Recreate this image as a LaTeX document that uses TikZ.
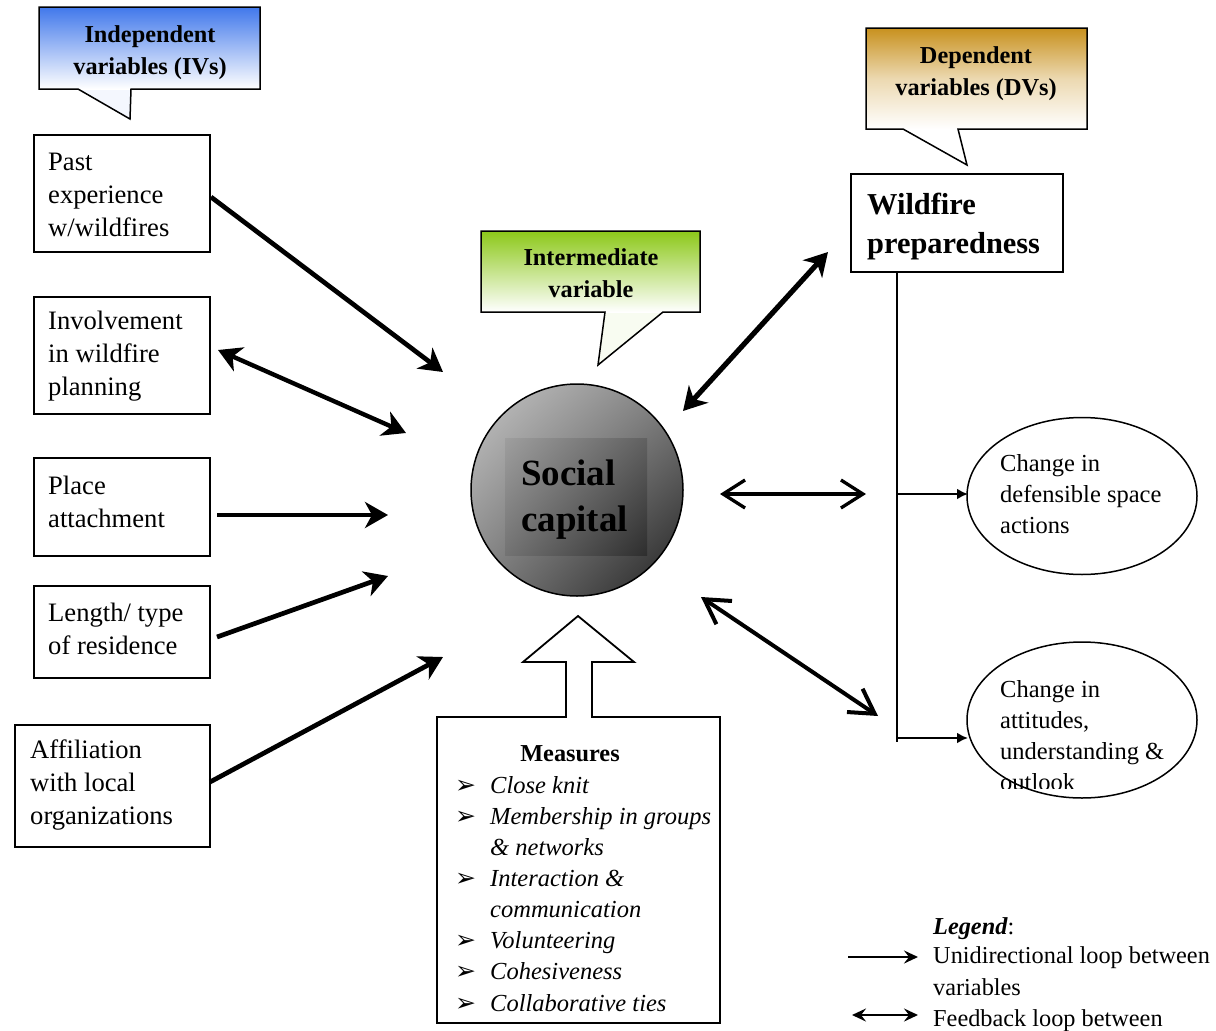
\documentclass[tikz,border=0pt]{standalone}
\usepackage{fontspec}
\setmainfont{Liberation Serif}
\newfontfamily\dejavu{DejaVu Sans}
\usetikzlibrary{arrows.meta,shapes.geometric,shadings}
\definecolor{ivblue}{RGB}{65,120,235}
\definecolor{dvgold}{RGB}{200,145,30}
\definecolor{imgreen}{RGB}{140,200,25}
\begin{document}
\begin{tikzpicture}[x=1pt,y=-1pt,
  ivbox/.style={draw, line width=1.8pt, rectangle, anchor=north west, inner sep=0pt},
  ivtext/.style={anchor=west, align=left, inner sep=0pt, font=\fontsize{26.6pt}{33pt}\selectfont},
  calltext/.style={align=center, inner sep=0pt, font=\bfseries\fontsize{24.3pt}{32pt}\selectfont},
  callout/.style={line width=1.5pt},
  bigtip/.style={line width=#1, -{Stealth[length=23pt,width=26pt,inset=7pt]}},
  bigdbl/.style={line width=#1, {Stealth[length=23pt,width=26pt,inset=7pt]}-{Stealth[length=23pt,width=26pt,inset=7pt]}},
  smallarrow/.style={line width=2.4pt, -{Latex[length=11pt,width=11pt]}},
  mtext/.style={anchor=base west, inner sep=0pt, font=\itshape\fontsize{24.5pt}{31pt}\selectfont},
  mbullet/.style={anchor=base west, inner sep=0pt, font=\dejavu\fontsize{25pt}{25pt}\selectfont},
  ovtext/.style={anchor=west, align=left, inner sep=0pt, font=\fontsize{24.5pt}{31pt}\selectfont},
  legtext/.style={anchor=base west, inner sep=0pt, font=\fontsize{24.3pt}{31pt}\selectfont}
]
\useasboundingbox (0,0) rectangle (1216,1031);
\fill[white] (0,0) rectangle (1216,1031);

% ---------- callouts ----------
% IV
\fill[ivblue!6] (78,89) -- (130,119) -- (131,89) -- cycle;
\shade[top color=ivblue, bottom color=white] (39,7) rectangle (260,89);
\draw[callout] (39,7) -- (260,7) -- (260,89) -- (131,89) -- (130,119) -- (78,89) -- (39,89) -- cycle;
\node[calltext] (ivt) at (150,53) {Independent\\variables (IVs)};
% Intermediate
\fill[imgreen!6] (605,312) -- (598,365) -- (663,312) -- cycle;
\shade[top color=imgreen, bottom color=white] (481,231) rectangle (700,312);
\draw[callout] (481,231) -- (700,231) -- (700,312) -- (663,312) -- (598,365) -- (605,312) -- (481,312) -- cycle;
\node[calltext] (imt) at (591,273) {Intermediate\\variable};
% DV
\fill[white] (903,129) -- (967,165) -- (958,129) -- cycle;
\shade[top color=dvgold, bottom color=white, middle color=dvgold!35] (866,28) rectangle (1087,129);
\draw[callout] (866,28) -- (1087,28) -- (1087,129) -- (958,129) -- (967,165) -- (903,129) -- (866,129) -- cycle;
\node[calltext] (dvt) at (976,74) {Dependent\\variables (DVs)};

% ---------- independent variable boxes ----------
\node[ivbox, minimum width=176pt, minimum height=117pt] (b1) at (33,134) {};
\node[ivtext] (b1t) at (48,194.5) {Past\\experience\\w/wildfires};
\node[ivbox, minimum width=176pt, minimum height=117pt] (b2) at (33,296) {};
\node[ivtext] (b2t) at (48,356.5) {Involvement\\in wildfire\\planning};
\node[ivbox, minimum width=176pt, minimum height=98pt] (b3) at (33,457) {};
\node[ivtext] (b3t) at (48,501.5) {Place\\attachment};
\node[ivbox, minimum width=176pt, minimum height=92pt] (b4) at (33,585) {};
\node[ivtext] (b4t) at (48,629) {Length/ type\\of residence};
\node[ivbox, minimum width=195pt, minimum height=122pt] (b5) at (14,724) {};
\node[ivtext] (b5t) at (30,785) {Affiliation\\with local\\organizations};

% ---------- social capital ----------
\node[circle, draw, line width=1.5pt, minimum size=212pt, inner sep=0pt,
      upper left=black!22, upper right=black!50, lower left=black!50, lower right=black!88] (sc) at (577,490) {};
\shade[upper left=black!38, upper right=black!62, lower left=black!55, lower right=black!82] (505,438) rectangle (647,555);
\node[anchor=west, align=left, inner sep=0pt, font=\bfseries\fontsize{37pt}{46pt}\selectfont] (sct) at (521,500) {Social\\capital};

% ---------- wildfire preparedness ----------
\node[draw, line width=1.8pt, anchor=north west, minimum width=212pt, minimum height=98pt, inner sep=0pt] (wp) at (850,173) {};
\node[anchor=west, align=left, inner sep=0pt, font=\bfseries\fontsize{30.4pt}{39pt}\selectfont] (wpt) at (867,227) {Wildfire\\preparedness};

% ---------- ellipses ----------
\node[ellipse, draw, line width=1.5pt, minimum width=230pt, minimum height=157pt] (e1) at (1082,496) {};
\node[ovtext] (e1t) at (1000,494) {Change in\\defensible space\\actions};
\node[ellipse, draw, line width=1.5pt, minimum width=230pt, minimum height=156pt] (e2) at (1082,720) {};
\begin{scope}
\clip (985,640) rectangle (1200,788);
\node[ovtext] (e2t) at (1000,736) {Change in\\attitudes,\\understanding \&\\outlook};
\end{scope}

% vertical line and branches
\coordinate (vt) at (897,271);
\coordinate (vb) at (897,742);
\draw[line width=2.4pt] (vt) -- (vb);
\coordinate (br1) at (897,494);
\coordinate (e1in) at (968,494);
\coordinate (br2) at (897,738);
\coordinate (e2in) at (968,738);
\draw[smallarrow] (br1) -- (e1in);
\draw[smallarrow] (br2) -- (e2in);

% ---------- measures ----------
\draw[line width=1.8pt, fill=white] (437,717) -- (566,717) -- (566,662) -- (523,662) -- (578,616) -- (634,662) -- (592,662) -- (592,717) -- (720,717) -- (720,1023) -- (437,1023) -- cycle;
\node[anchor=base, inner sep=0pt, font=\bfseries\fontsize{24.3pt}{31pt}\selectfont] (mh) at (570,761) {Measures};
\node[mtext] (m1) at (490,793) {Close knit};
\node[mtext] (m2) at (490,824) {Membership in groups};
\node[mtext] (m3) at (490,855) {\& networks};
\node[mtext] (m4) at (490,886) {Interaction \&};
\node[mtext] (m5) at (490,917) {communication};
\node[mtext] (m6) at (490,948) {Volunteering};
\node[mtext] (m7) at (490,979) {Cohesiveness};
\node[mtext] (m8) at (490,1011) {Collaborative ties};
\node[mbullet] (k1) at (455,793) {➢};
\node[mbullet] (k2) at (455,824) {➢};
\node[mbullet] (k4) at (455,886) {➢};
\node[mbullet] (k6) at (455,948) {➢};
\node[mbullet] (k7) at (455,979) {➢};
\node[mbullet] (k8) at (455,1011) {➢};

% ---------- arrows ----------
\coordinate (a1s) at (211,197);  \coordinate (a1e) at (443,372);
\coordinate (a2s) at (218,350);  \coordinate (a2e) at (406,433);
\coordinate (a3s) at (217,515);  \coordinate (a3e) at (388,515);
\coordinate (a4s) at (217,637);  \coordinate (a4e) at (388,576);
\coordinate (a5s) at (210,782);  \coordinate (a5e) at (443,657);
\coordinate (a6s) at (683,411);  \coordinate (a6e) at (828,252);
\coordinate (a7s) at (720,494);  \coordinate (a7e) at (866,494);
\coordinate (a8s) at (701,597);  \coordinate (a8e) at (878,716);
\draw[bigtip=4.7pt] (a1s) -- (a1e);
\draw[bigdbl=4.4pt] (a2s) -- (a2e);
\draw[bigtip=4.7pt] (a3s) -- (a3e);
\draw[bigtip=4.7pt] (a4s) -- (a4e);
\draw[bigtip=4.7pt] (a5s) -- (a5e);
\draw[bigdbl=5.2pt] (a6s) -- (a6e);
\draw[line width=3.3pt, {Straight Barb[length=22pt,width=28pt]}-{Straight Barb[length=22pt,width=28pt]}] (a7s) -- (a7e);
\draw[line width=4pt, {Straight Barb[length=24pt,width=28pt]}-{Straight Barb[length=24pt,width=28pt]}] (a8s) -- (a8e);

% ---------- legend ----------
\node[legtext] (lg) at (933,934) {\textbf{\textit{Legend}}:};
\node[legtext] (l1) at (933,963) {Unidirectional loop between};
\node[legtext] (l2) at (933,995) {variables};
\node[legtext] (l3) at (933,1026) {Feedback loop between};
\coordinate (la1s) at (848,957); \coordinate (la1e) at (918,957);
\coordinate (la2s) at (852,1015); \coordinate (la2e) at (918,1015);
\draw[line width=2.6pt, -{Stealth[length=14pt,width=13pt,inset=5pt]}] (la1s) -- (la1e);
\draw[line width=2.6pt, {Stealth[length=14pt,width=13pt,inset=5pt]}-{Stealth[length=14pt,width=13pt,inset=5pt]}] (la2s) -- (la2e);
\end{tikzpicture}
\end{document}
